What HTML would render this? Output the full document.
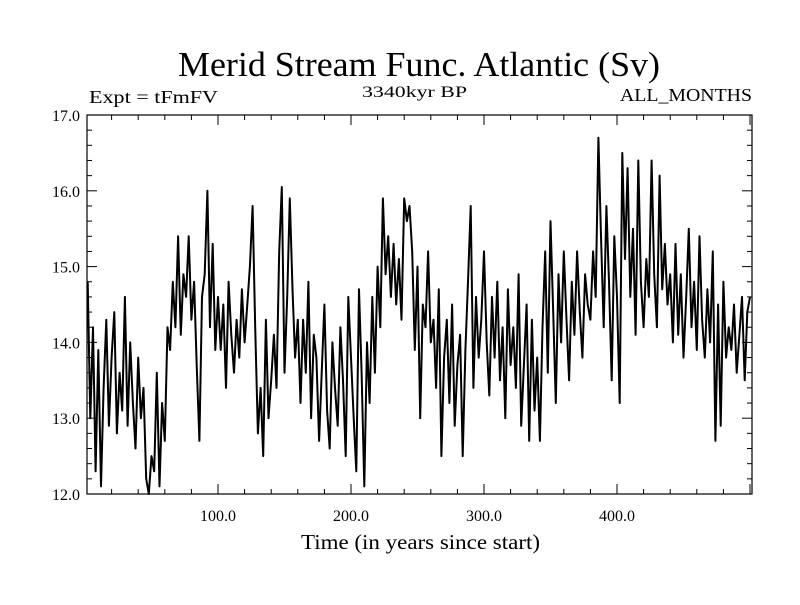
<!DOCTYPE html>
<html><head><meta charset="utf-8"><style>
body{margin:0;background:#fff}
svg text{font-family:"Liberation Serif",serif;fill:#000}
</style></head><body>
<svg id="chart" width="800" height="600" xmlns="http://www.w3.org/2000/svg">
<text x="178" y="76" font-size="35" textLength="482" lengthAdjust="spacingAndGlyphs">Merid Stream Func. Atlantic (Sv)</text>
<text x="89" y="103" font-size="18" textLength="129" lengthAdjust="spacingAndGlyphs">Expt = tFmFV</text>
<text x="362" y="97" font-size="16" textLength="105" lengthAdjust="spacingAndGlyphs">3340kyr BP</text>
<text x="620" y="101" font-size="18" textLength="132" lengthAdjust="spacingAndGlyphs">ALL_MONTHS</text>
<text x="301" y="549" font-size="21" textLength="239" lengthAdjust="spacingAndGlyphs">Time (in years since start)</text>
<g id="axes"></g>
<path id="series" fill="none" stroke="#000" stroke-width="2" stroke-linejoin="round"></path>
<rect x="87" y="115" width="665" height="379" fill="none" stroke="#000" stroke-width="1.2"></rect>
</svg>
<script>
const xTickValues=[100,200,300,400];
const xTickLabels=["100.0","200.0","300.0","400.0"];
const yTickValues=[12,13,14,15,16,17];
const yTickLabels=["12.0","13.0","14.0","15.0","16.0","17.0"];
const yearStart=2, yearStep=2;
const values=[
14.8,13.0,14.2,12.3,13.9,12.1,13.4,14.3,12.9,13.8,
14.4,12.8,13.6,13.1,14.6,12.9,14.0,13.2,12.6,13.8,
13.0,13.4,12.2,12.0,12.5,12.3,13.6,12.1,13.2,12.7,
14.2,13.9,14.8,14.2,15.4,14.1,14.9,14.6,15.4,14.3,
14.8,13.7,12.7,14.6,14.9,16.0,14.2,15.3,13.9,14.6,
13.9,14.5,13.4,14.8,14.1,13.6,14.3,13.8,14.7,14.0,
14.5,15.0,15.8,14.2,12.8,13.4,12.5,14.3,13.0,13.5,
14.1,13.4,15.2,16.05,13.6,14.6,15.9,14.7,13.8,14.3,
13.2,14.3,13.6,14.8,13.0,14.1,13.8,12.7,13.6,14.5,
13.1,12.6,14.0,13.4,12.9,14.2,13.5,12.5,14.6,13.8,
13.0,12.3,14.7,13.6,12.1,14.0,13.2,14.6,13.6,15.0,
14.2,15.9,14.9,15.4,14.6,15.3,14.5,15.1,14.3,15.9,
15.6,15.8,15.2,13.9,15.0,13.0,14.5,14.2,15.2,14.0,
14.3,13.4,14.7,12.5,13.8,14.3,13.2,14.5,12.9,13.7,
14.1,12.5,13.9,14.8,15.8,13.4,14.6,13.8,14.3,15.2,
14.0,13.3,14.6,13.8,14.8,13.5,14.2,13.0,14.7,13.7,
14.2,13.4,14.9,12.9,13.7,14.5,12.7,14.3,13.1,13.8,
12.7,14.2,15.2,13.6,15.6,14.4,13.2,14.9,14.0,15.2,
14.3,13.5,14.8,14.1,15.2,14.4,13.8,14.9,14.5,14.3,
15.2,14.6,16.7,15.4,14.2,15.8,14.8,13.5,15.4,14.6,
13.2,16.5,15.1,16.3,14.6,15.5,14.1,16.4,14.8,14.2,
15.1,14.6,16.4,14.9,14.2,16.2,14.7,15.3,14.5,14.9,
14.0,15.3,14.1,14.9,13.8,14.6,15.5,14.2,14.8,13.9,
15.4,14.3,13.8,14.7,14.0,15.2,12.7,14.5,12.9,14.8,
13.8,14.2,13.9,14.5,13.6,14.1,14.6,13.5,14.4,14.6
];
const X0=87,X1=752,Y0=494,Y1=115,xMin=1.5,xMax=501.5,yMin=12,yMax=17;
const xs=v=>X0+(v-xMin)/(xMax-xMin)*(X1-X0);
const ys=v=>Y0-(v-yMin)/(yMax-yMin)*(Y0-Y1);
const NS="http://www.w3.org/2000/svg";
const ax=document.getElementById('axes');
function line(x1,y1,x2,y2,name){const l=document.createElementNS(NS,'line');
l.setAttribute('x1',x1);l.setAttribute('y1',y1);l.setAttribute('x2',x2);l.setAttribute('y2',y2);
l.setAttribute('stroke','#000');l.setAttribute('stroke-width','1');


ax.appendChild(l);}
function text(x,y,s,anchor,name){const t=document.createElementNS(NS,'text');
t.setAttribute('x',x);t.setAttribute('y',y);t.setAttribute('font-size','16');t.setAttribute('text-anchor',anchor);t.textContent=s;


ax.appendChild(t);}
for(let v=20;v<=500;v+=20){const x=xs(v);const major=v%100===0;const len=major?10:5;
line(x,Y0,x,Y0-len,'x-tick');line(x,Y1,x,Y1+len,'x-tick-top');}
for(let v=12;v<=17.001;v+=0.2){const y=ys(v);const major=Math.abs(v-Math.round(v))<0.01;const len=major?10:5;
line(X0,y,X0+len,y,'y-tick');line(X1,y,X1-len,y,'y-tick-right');}
xTickValues.forEach((v,i)=>text(xs(v),521,xTickLabels[i],'middle','x-tick-label'));
yTickValues.forEach((v,i)=>text(80,ys(v)+6,yTickLabels[i],'end','y-tick-label'));
let d='';values.forEach((v,i)=>{const yr=yearStart+i*yearStep;d+=(i?'L':'M')+xs(yr).toFixed(1)+' '+ys(v).toFixed(1);});
document.getElementById('series').setAttribute('d',d);
</script>
</body></html>
